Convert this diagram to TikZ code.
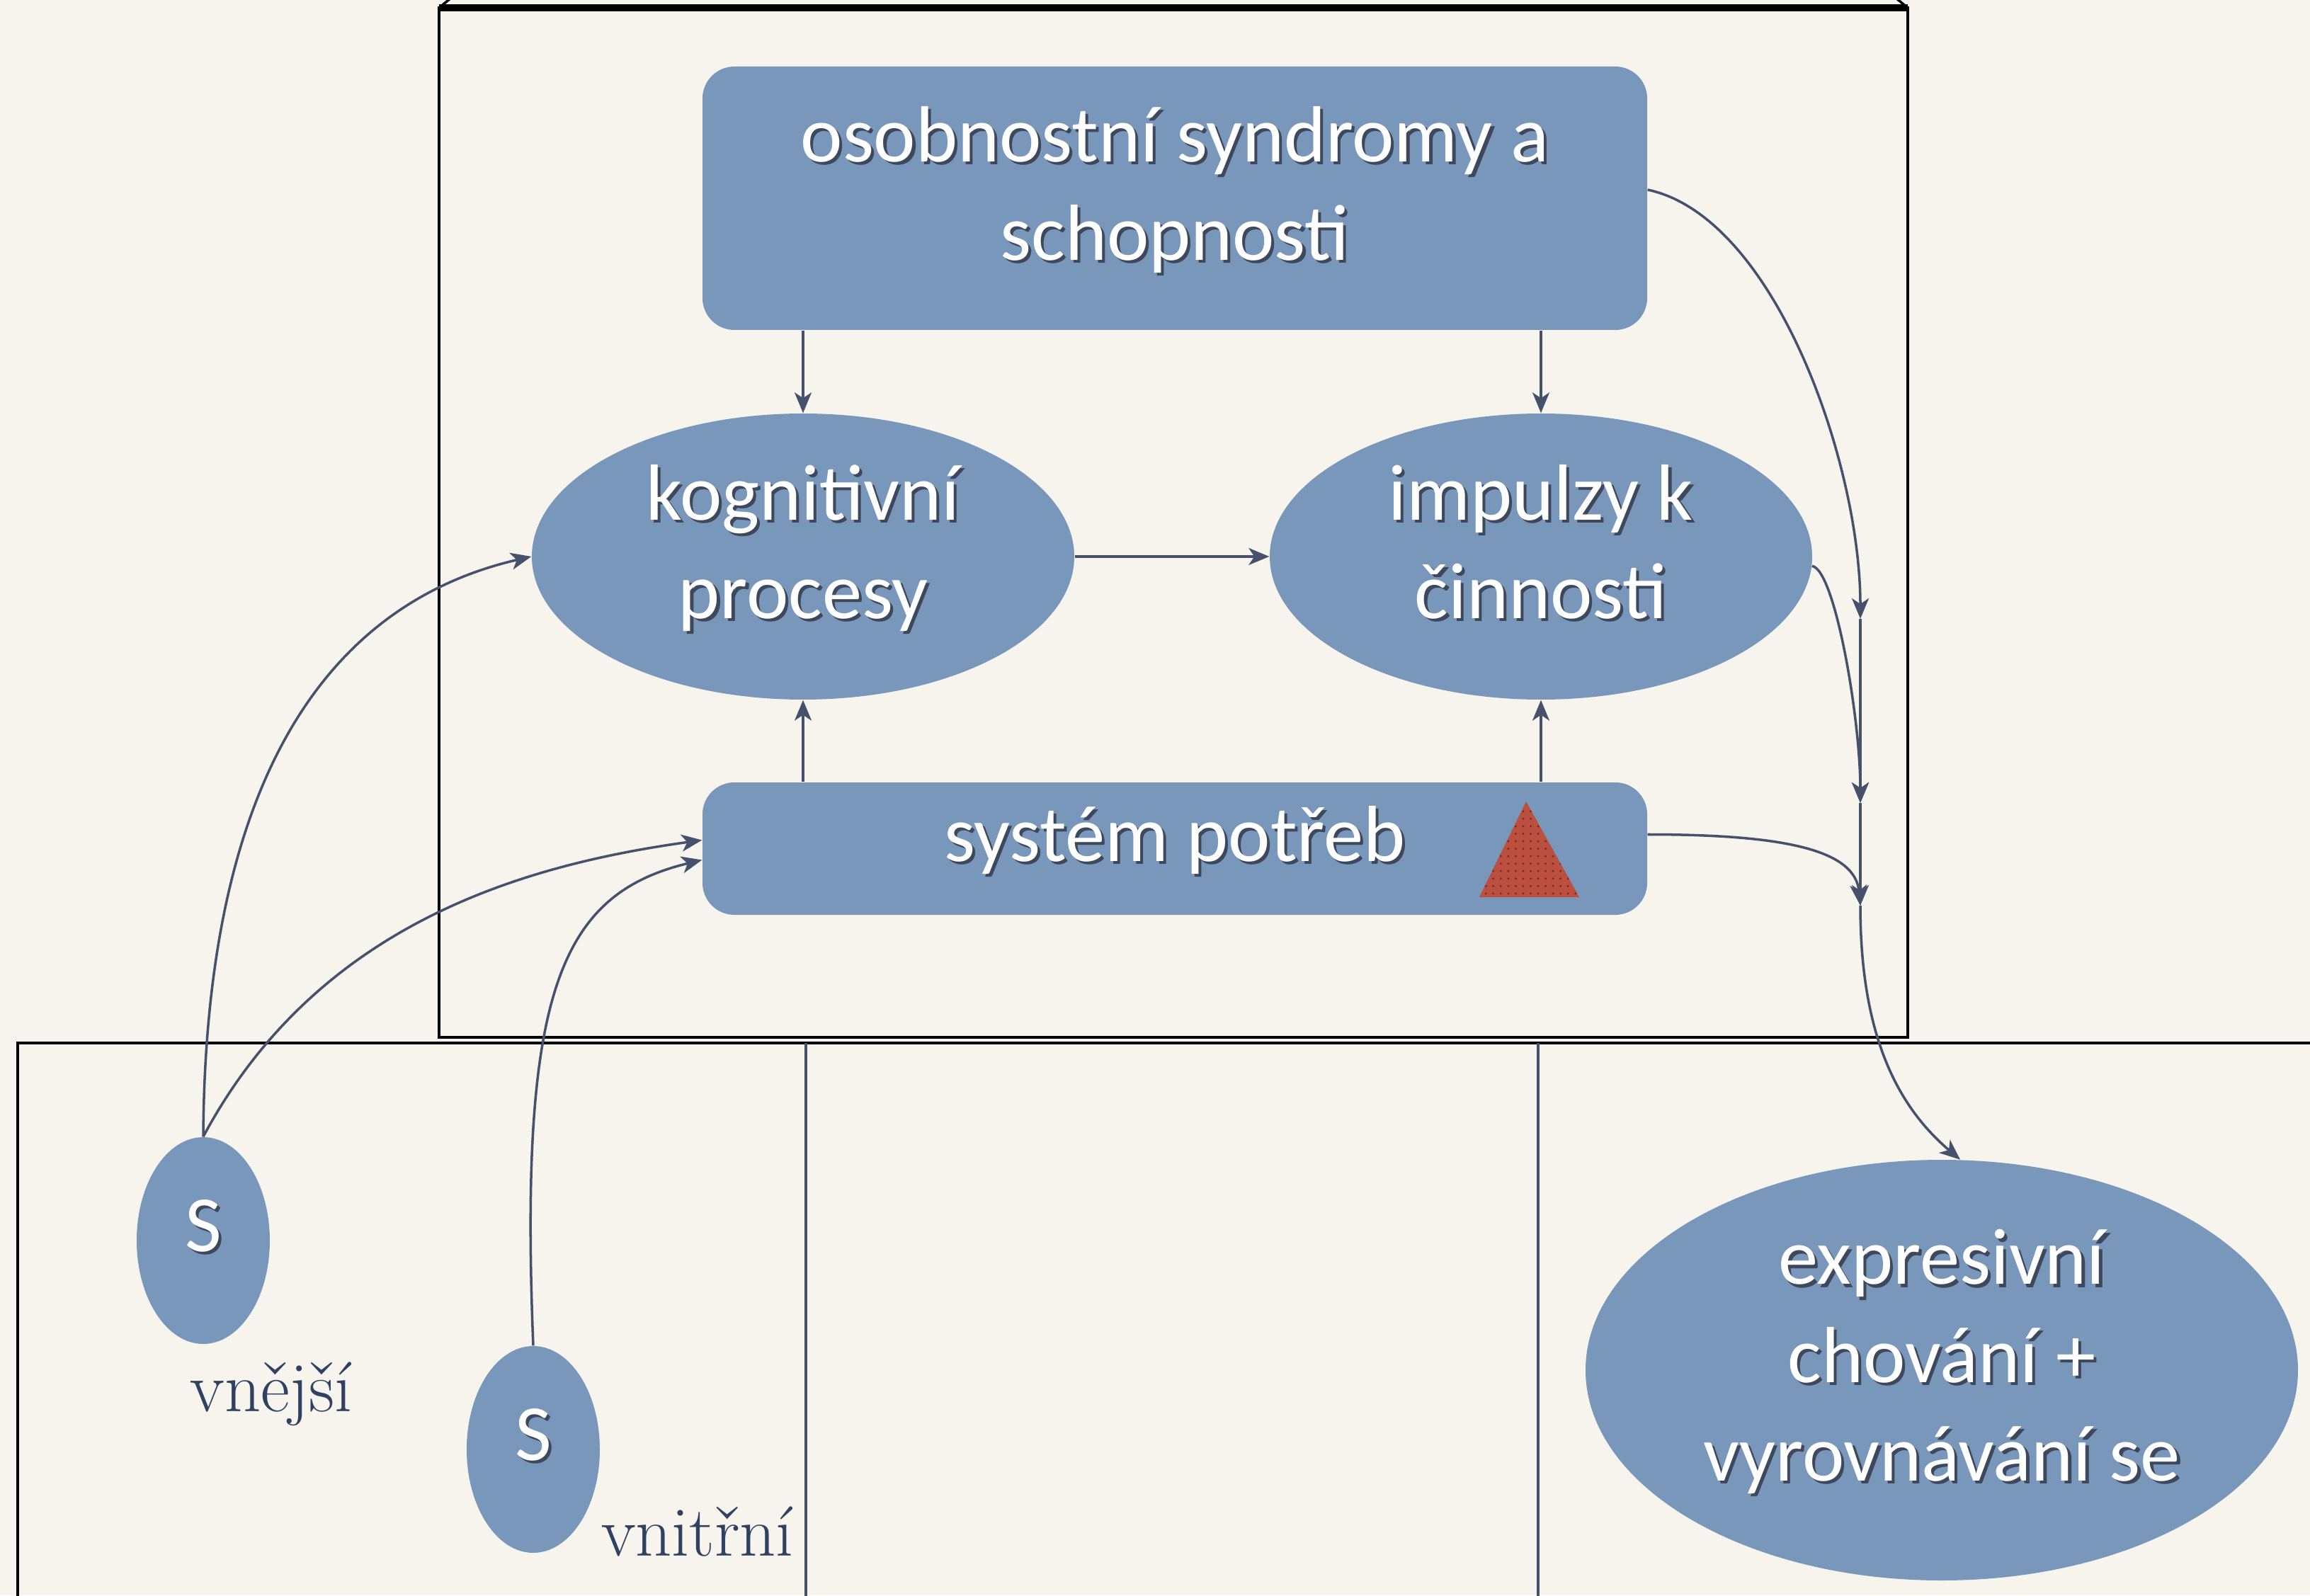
\documentclass[tikz,border=0pt]{standalone}
\usepackage{fontspec}
\newfontfamily\calib{Carlito}
\usetikzlibrary{arrows.meta,shapes.geometric,patterns}
\definecolor{bgc}{RGB}{247,244,238}
\definecolor{nodeblue}{RGB}{121,151,186}
\definecolor{linkc}{RGB}{70,82,108}
\definecolor{lblc}{RGB}{48,66,98}
\definecolor{shadowc}{RGB}{62,72,92}
\definecolor{trired}{RGB}{188,80,64}
\definecolor{tridot}{RGB}{135,42,32}
\newcommand\shd[1]{\rlap{\kern1.2pt\raisebox{-1.2pt}{\color{shadowc}#1}}#1}

\begin{document}
\begin{tikzpicture}[
  blob/.style={fill=nodeblue, text=white, inner sep=0pt, align=center,
    text depth=12pt, font=\calib\fontsize{32}{39.5}\selectfont},
  bar/.style={blob, rounded corners=0.45cm, minimum width=13.34cm},
  oval/.style={blob, ellipse},
  link/.style={draw=linkc, line width=1pt,
    -{Stealth[length=0.29cm,width=0.24cm,inset=0.08cm]}},
  lbl/.style={text=lblc, font=\fontsize{28.5}{32}\selectfont, anchor=base}
]
  \useasboundingbox (0,0) rectangle (32.62,22.53);
  \fill[bgc] (0,0) rectangle (32.62,22.53);
  \clip (0,0) rectangle (32.62,22.53);
  % frames
  \draw[line width=1.4pt] (6.20,22.42) rectangle (26.94,7.88);
  \draw[line width=2.6pt] (6.20,22.42) -- (26.94,22.42);
  \draw[line width=1pt] (6.20,22.42) -- (6.42,22.6);
  \draw[line width=1pt] (26.94,22.42) -- (26.72,22.6);
  \draw[line width=1pt] (0.25,-0.5) -- (0.25,7.80) -- (33,7.80);
  \draw[linkc, line width=1pt] (11.38,7.80) -- (11.38,-0.5);
  \draw[linkc, line width=1pt] (21.72,7.80) -- (21.72,-0.5);
  % nodes
  \node[bar, minimum height=3.72cm] (osob) at (16.59,19.73)
    {\shd{osobnostní syndromy a}\\\shd{schopnosti}};
  \node[bar, minimum height=1.87cm] (sys) at (16.59,10.545) {\shd{systém potřeb}};
  \path[fill=trired, postaction={pattern=dots, pattern color=tridot}]
    (21.55,11.21) -- (22.30,9.86) -- (20.89,9.86) -- cycle;
  \node[oval, minimum width=7.66cm, minimum height=4.04cm] (kog) at (11.34,14.67)
    {\shd{kognitivní}\\\shd{procesy}};
  \node[oval, minimum width=7.66cm, minimum height=4.04cm] (imp) at (21.76,14.67)
    {\shd{impulzy k}\\\shd{činnosti}};
  \node[oval, minimum width=1.88cm, minimum height=2.92cm] (s1) at (2.87,5.01) {\shd{S}};
  \node[oval, minimum width=1.88cm, minimum height=2.92cm] (s2) at (7.53,2.06) {\shd{S}};
  \node[oval, minimum width=10.06cm, minimum height=5.94cm] (exp) at (27.42,3.18)
    {\shd{expresivní}\\\shd{chování +}\\\shd{vyrovnávání se}};
  \node[lbl] (ext) at (3.83,2.60) {vnější};
  \node[lbl] (int) at (9.85,0.56) {vnitřní};
  \coordinate (m1) at (26.27,13.79);
  \coordinate (m2) at (26.27,11.19);
  \coordinate (m3) at (26.27,9.74);
  % links
  \draw[link] (osob.south -| kog.north) -- (kog.north);
  \draw[link] (osob.south -| imp.north) -- (imp.north);
  \draw[link] (sys.north -| kog.south) -- (kog.south);
  \draw[link] (sys.north -| imp.south) -- (imp.south);
  \draw[link] (kog.east) -- (imp.west);
  \draw[link] ([yshift=0.12cm]osob.east) .. controls (25.06,19.47) and (26.27,15.99) .. (m1);
  \draw[link] (imp.-2) .. controls (25.91,14.49) and (26.27,12.39) .. (m2);
  \draw[link] ([yshift=0.2cm]sys.east) .. controls (25.3,10.745) and (26.2,10.5) .. (m3);
  \draw[link] (m1) -- (m2);
  \draw[link] (m2) -- (m3);
  \draw[link] (m3) .. controls (26.27,7.9) and (26.8,6.9) .. (exp.85);
  \draw[link] (s1.north) .. controls (2.9,11.5) and (4.6,14.0) .. (kog.west);
  \draw[link] (s1.north) .. controls (4.47,9.47) and (7.36,10.31) .. ([yshift=0.12cm]sys.west);
  \draw[link] (s2.north) .. controls (7.33,8.5) and (7.9,9.9) .. ([yshift=-0.16cm]sys.west);
\end{tikzpicture}
\end{document}
